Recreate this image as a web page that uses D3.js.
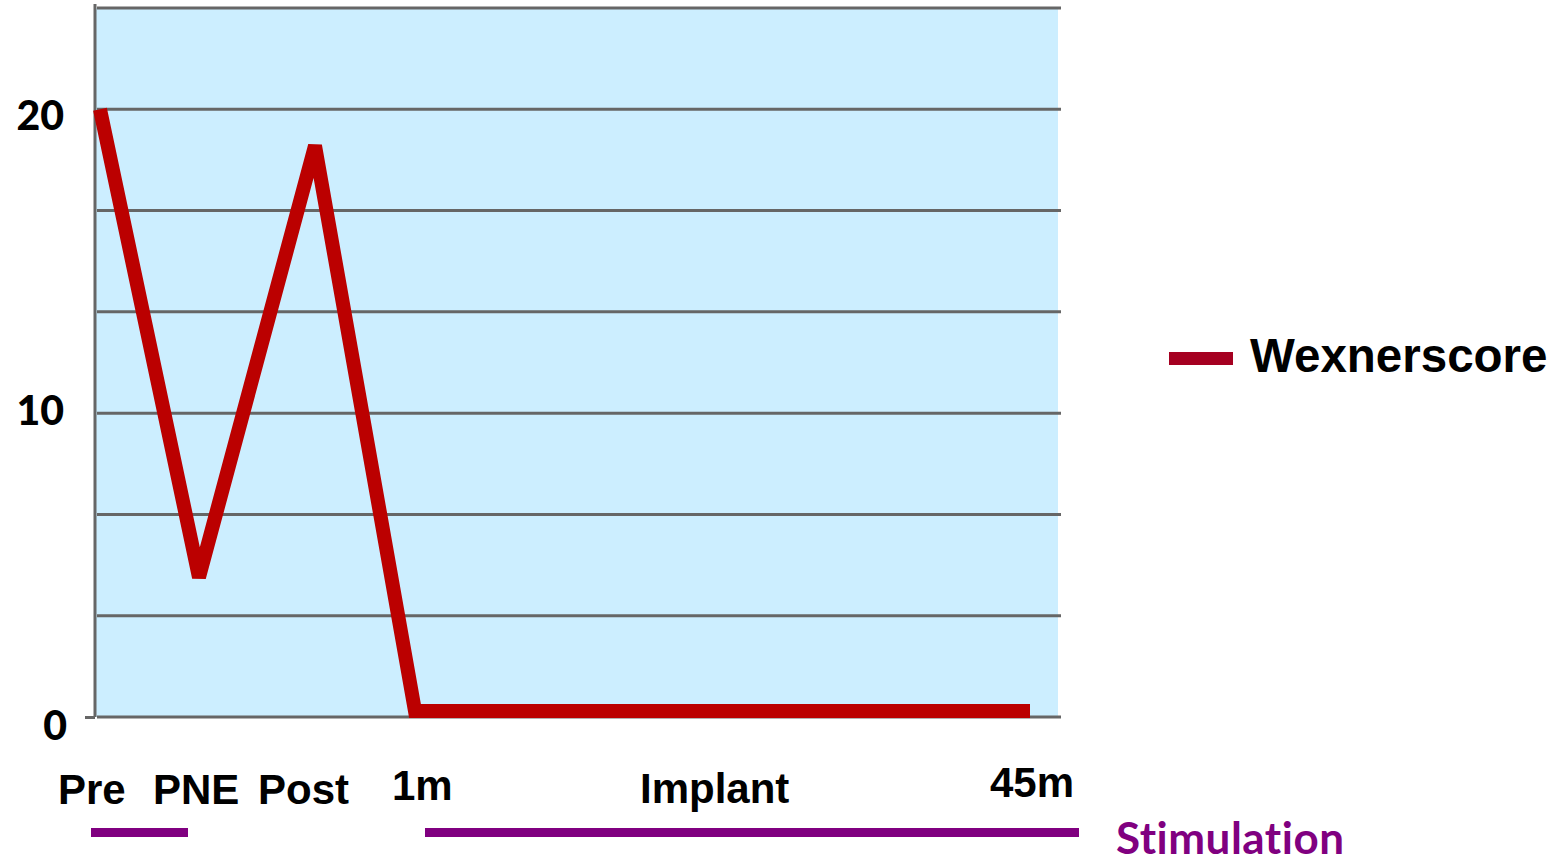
<!DOCTYPE html>
<html>
<head>
<meta charset="utf-8">
<script src="https://cdn.jsdelivr.net/npm/d3@7"></script>
<style>
  body { margin: 0; background: #fff; }
  svg { display: block; }
</style>
</head>
<body>
<svg id="canvas"></svg>
<script>
// timeline: position along the x axis and Wexner score
let labels = ["Pre", "PNE", "Post", "1m", "45m"]
let timeline = [0, 0.99, 2.15, 3.15, 9.3]
let wexner = [20, 4.6, 18.8, 0.2, 0.2]

let yTicks = [0, 10, 20]
let gridValues = [0, 10 / 3, 20 / 3, 10, 40 / 3, 50 / 3, 20, 70 / 3]

let seriesName = "Wexnerscore"
let phaseName = "Implant"
let stimName = "Stimulation"

let width = 1564
let height = 862

let plotLeft = 95
let plotRight = 1058
let plotTop = 8
let plotBottom = 717

let canvas = d3.select("#canvas")
    .attr("width", width)
    .attr("height", height)

let xScale = d3.scaleLinear()
    .domain([-0.05, 9.58])
    .range([plotLeft, plotRight])

let yScale = d3.scaleLinear()
    .domain([0, 70 / 3])
    .range([plotBottom, plotTop])

// plot background
canvas.append("rect")
    .attr("x", plotLeft)
    .attr("y", plotTop)
    .attr("width", plotRight - plotLeft)
    .attr("height", plotBottom - plotTop)
    .attr("fill", "#cceeff")

// horizontal grid lines
canvas.append("g")
    .selectAll("line")
    .data(gridValues)
    .enter()
    .append("line")
    .attr("x1", plotLeft + 2)
    .attr("x2", plotRight + 3)
    .attr("y1", d => yScale(d))
    .attr("y2", d => yScale(d))
    .attr("stroke", "#666666")
    .attr("stroke-width", 3)

// y axis: just the vertical rule and a small tick at zero
let yAxis = d3.axisLeft(yScale)
    .tickValues([0])
    .tickSizeInner(10)
    .tickSizeOuter(0)
    .tickFormat("")

let yAxisGroup = canvas.append("g")
    .attr("transform", "translate(" + plotLeft + ",0)")
    .call(yAxis)
yAxisGroup.select(".domain")
    .attr("d", "M0," + (plotTop - 4) + "V" + plotBottom)
    .attr("stroke", "#666666")
    .attr("stroke-width", 3)
yAxisGroup.selectAll(".tick line")
    .attr("stroke", "#666666")
    .attr("stroke-width", 3)

canvas.append("g")
    .selectAll("text")
    .data(yTicks)
    .enter()
    .append("text")
    .attr("x", d => d == 0 ? 67 : 64)
    .attr("y", d => yScale(d) + (d == 0 ? 23 : d == 10 ? 12 : 21))
    .attr("text-anchor", "end")
    .style("font-family", "Lato, 'Open Sans', sans-serif")
    .style("font-weight", "900")
    .style("font-size", "41px")
    .text(d => d)

// the score line
let line = d3.line()
    .x((d, i) => xScale(timeline[i]))
    .y(d => yScale(d))

canvas.append("path")
    .datum(wexner)
    .attr("d", line)
    .attr("fill", "none")
    .attr("stroke", "#bb0000")
    .attr("stroke-width", 14)
    .attr("stroke-linejoin", "miter")
    .attr("stroke-miterlimit", 2)
    .attr("stroke-linecap", "butt")

// x labels
let labelFont = "'Liberation Sans', Arial, sans-serif"
let xLabelX = [58, 153, 258, 392, 990]
let xLabelY = [804, 804, 804, 800, 797]

canvas.append("g")
    .selectAll("text")
    .data(labels)
    .enter()
    .append("text")
    .attr("x", (d, i) => xLabelX[i])
    .attr("y", (d, i) => xLabelY[i])
    .style("font-family", labelFont)
    .style("font-weight", "bold")
    .style("font-size", "42px")
    .text(d => d)

canvas.append("text")
    .attr("x", 640)
    .attr("y", 803)
    .style("font-family", labelFont)
    .style("font-weight", "bold")
    .style("font-size", "42px")
    .text(phaseName)

// stimulation bars
let bars = [[91, 188], [425, 1079]]
canvas.append("g")
    .selectAll("rect")
    .data(bars)
    .enter()
    .append("rect")
    .attr("x", d => d[0])
    .attr("y", 828)
    .attr("width", d => d[1] - d[0])
    .attr("height", 9)
    .attr("fill", "#800080")

canvas.append("text")
    .attr("x", 1116)
    .attr("y", 854)
    .attr("fill", "#800080")
    .style("font-family", "Lato, 'Open Sans', sans-serif")
    .style("font-weight", "bold")
    .style("font-size", "44px")
    .style("font-variant-ligatures", "none")
    .style("letter-spacing", "0.5px")
    .text(stimName)

// legend
canvas.append("rect")
    .attr("x", 1169)
    .attr("y", 352)
    .attr("width", 64)
    .attr("height", 13)
    .attr("fill", "#a50021")

canvas.append("text")
    .attr("x", 1250)
    .attr("y", 372)
    .style("font-family", labelFont)
    .style("font-weight", "bold")
    .style("font-size", "47.5px")
    .text(seriesName)
</script>
</body>
</html>
